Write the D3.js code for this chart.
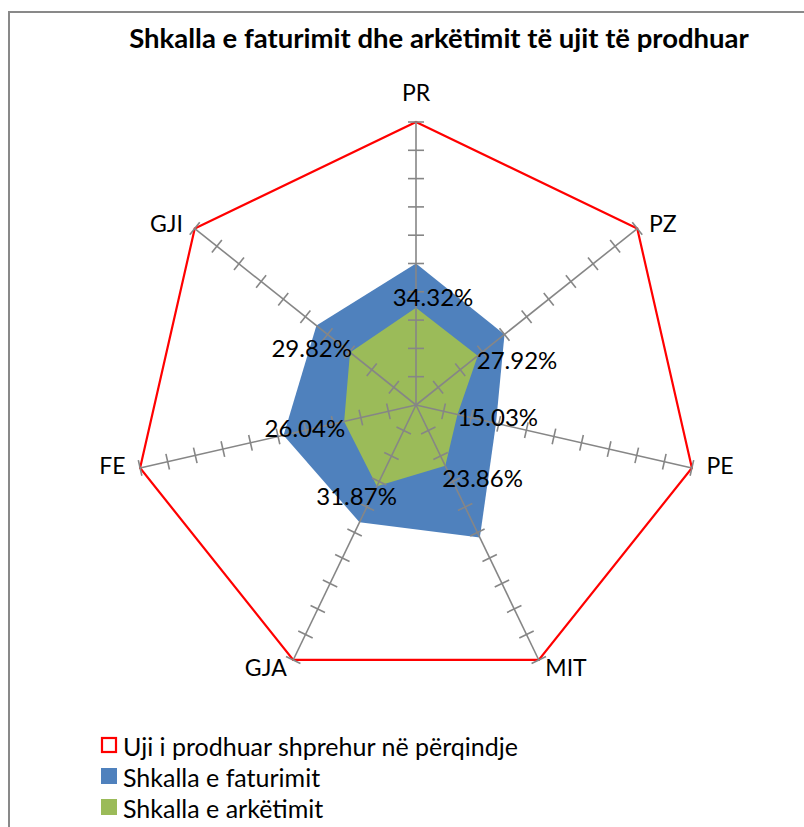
<!DOCTYPE html>
<html>
<head>
<meta charset="utf-8">
<script src="https://cdn.jsdelivr.net/npm/d3@7"></script>
<style>
  body { margin: 0; background: #fff; }
  text { font-family: Lato, "Open Sans", sans-serif; fill: #000; }
</style>
</head>
<body>
<svg id="chart" width="804" height="827"></svg>
<script>
// categories (axes) of the radar
var categories = ["PR", "PZ", "PE", "MIT", "GJA", "FE", "GJI"];
// series values, in percent
var produced   = [100, 100, 100, 100, 100, 100, 100];
var billing    = [50, 40, 29, 52, 46, 48, 45];
var collection = [34.32, 27.92, 15.03, 23.86, 31.87, 26.04, 29.82];
var seriesNames = ["Uji i prodhuar shprehur në përqindje", "Shkalla e faturimit", "Shkalla e arkëtimit"];

var svg = d3.select("#chart"),
    cx = 416, cy = 405, radius = 283,
    red = "#ff0000", blue = "#4f81bd", green = "#9bbb59", grey = "#868686";

// frame of the chart area (runs off the right and bottom of the picture)
svg.append("path")
    .attr("d", "M9,840V12H820")
    .attr("fill", "none").attr("stroke", "#898989").attr("stroke-width", 2);

svg.append("text")
    .attr("x", 439).attr("y", 48)
    .attr("text-anchor", "middle")
    .style("font-weight", "bold").style("font-size", "27.5px")
    .text("Shkalla e faturimit dhe arkëtimit të ujit të prodhuar");

var r = d3.scaleLinear().domain([0, 100]).range([0, radius]);
var angle = d3.scaleBand().domain(categories).range([0, 2 * Math.PI]);
var a = function(i) { return angle(categories[i]); };

var g = svg.append("g").attr("transform", "translate(" + cx + "," + cy + ")");

var radial = d3.lineRadial()
    .angle(function(d, i) { return a(i); })
    .radius(function(d) { return r(d); })
    .curve(d3.curveLinearClosed);

g.append("path").attr("d", radial(billing)).attr("fill", blue);
g.append("path").attr("d", radial(collection)).attr("fill", green);
g.append("path").attr("d", radial(produced))
    .attr("fill", "none").attr("stroke", red).attr("stroke-width", 2.2)
    .attr("stroke-linejoin", "miter");

// axes with cross ticks every 10%
var ticks = r.ticks(10).filter(function(t) { return t > 0; });
categories.forEach(function(c, i) {
    var th = a(i), s = Math.sin(th), co = -Math.cos(th);
    var ax = g.append("g").attr("stroke", grey).attr("stroke-width", 1.6);
    ax.append("line").attr("x1", 0).attr("y1", 0)
        .attr("x2", r(100) * s).attr("y2", r(100) * co);
    ticks.forEach(function(t) {
        var px = r(t) * s, py = r(t) * co, h = 8;
        ax.append("line")
            .attr("x1", px - h * co).attr("y1", py + h * s)
            .attr("x2", px + h * co).attr("y2", py - h * s);
    });
});

// category labels
categories.forEach(function(c, i) {
    var th = a(i), s = Math.sin(th), co = -Math.cos(th), p = r(100) + 15;
    var anchor = s > 0.2 ? "start" : (s < -0.2 ? "end" : "middle");
    var extra = Math.abs(s) < 0.2 ? 15 : 0;
    g.append("text")
        .attr("x", p * s).attr("y", (p + extra) * co + (co < 0 && Math.abs(s) > 0.2 ? 4 : 0) - (co > 0 ? 6 : 0))
        .attr("text-anchor", anchor)
        .attr("dominant-baseline", "central")
        .style("font-size", "23px")
        .text(c);
});

// data labels for the collection series
var nudge = [[17, -11, "middle"], [-1, 4, "start"], [0, 2, "start"], [-3, 12, "start"],
             [20, 9, "end"], [1, 6, "end"], [2, -5, "end"]];
collection.forEach(function(v, i) {
    var th = a(i), px = r(v) * Math.sin(th), py = -r(v) * Math.cos(th);
    g.append("text")
        .attr("x", px + nudge[i][0]).attr("y", py + nudge[i][1])
        .attr("text-anchor", nudge[i][2])
        .attr("dominant-baseline", "central")
        .style("font-size", "24px")
        .text(v.toFixed(2) + "%");
});

// legend
var leg = svg.append("g").attr("transform", "translate(101,745)");
var colors = [red, blue, green];
seriesNames.forEach(function(n, i) {
    var row = leg.append("g").attr("transform", "translate(0," + (i * 31) + ")");
    if (i === 0) {
        row.append("rect").attr("x", 1).attr("y", -7).attr("width", 14).attr("height", 14)
            .attr("fill", "#fff").attr("stroke", red).attr("stroke-width", 2.2);
    } else {
        row.append("rect").attr("x", 0).attr("y", -8).attr("width", 16).attr("height", 16)
            .attr("fill", colors[i]);
    }
    row.append("text").attr("x", 22).attr("y", 1)
        .attr("dominant-baseline", "central")
        .style("font-size", "25px")
        .text(n);
});
</script>
</body>
</html>
